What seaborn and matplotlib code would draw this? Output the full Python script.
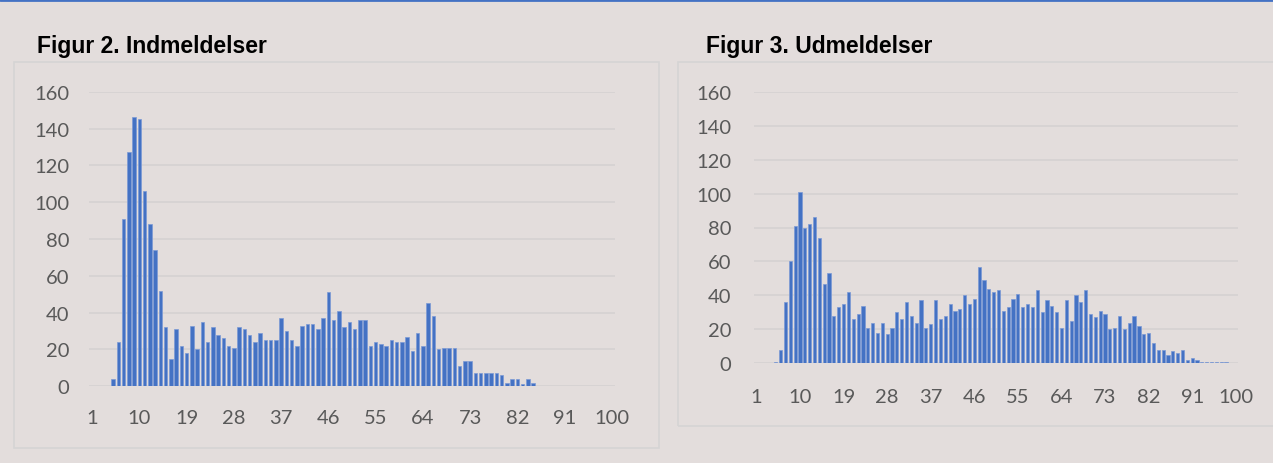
import numpy as np
import pandas as pd
import matplotlib
matplotlib.use("Agg")
import matplotlib.pyplot as plt
import seaborn as sns
from matplotlib.patches import Rectangle
from matplotlib.lines import Line2D

# ---------------- data ----------------
ages = list(range(1, 101))

indmeldelser = [
    0, 0, 0, 0, 4, 24, 91, 127, 146, 145,          # 1-10
    106, 88, 74, 52, 32, 15, 31, 22, 18, 33,       # 11-20
    20, 35, 24, 32, 28, 26, 22, 21, 32, 31,        # 21-30
    28, 24, 29, 25, 25, 25, 37, 30, 25, 22,        # 31-40
    33, 34, 34, 31, 37, 51, 36, 41, 32, 35,        # 41-50
    31, 36, 36, 22, 24, 23, 22, 25, 24, 24,        # 51-60
    27, 19, 29, 22, 45, 38, 20, 21, 21, 21,        # 61-70
    11, 14, 14, 7, 7, 7, 7, 7, 6, 2,               # 71-80
    4, 4, 1, 4, 2, 0, 0, 0, 0, 0,                  # 81-90
    0, 0, 0, 0, 0, 0, 0, 0, 0, 0,                  # 91-100
]

udmeldelser = [
    0, 0, 0, 0, 1, 8, 36, 60, 81, 101,             # 1-10
    80, 82, 86, 74, 47, 53, 28, 33, 35, 42,        # 11-20
    26, 29, 34, 21, 24, 18, 24, 17, 21, 30,        # 21-30
    26, 36, 28, 24, 37, 21, 23, 37, 26, 28,        # 31-40
    35, 31, 32, 40, 35, 38, 57, 49, 44, 42,        # 41-50
    43, 31, 33, 38, 41, 33, 35, 33, 43, 30,        # 51-60
    37, 34, 30, 21, 37, 25, 40, 36, 43, 29,        # 61-70
    27, 31, 29, 20, 21, 28, 20, 24, 28, 22,        # 71-80
    17, 18, 12, 8, 8, 5, 7, 6, 8, 2,               # 81-90
    3, 2, 1, 0.5, 0.5, 0.5, 0.5, 0.5, 0, 0,        # 91-100
]

tick_ages = list(range(1, 101, 9))
y_ticks = list(range(0, 161, 20))

titles = ["Figur 2. Indmeldelser", "Figur 3. Udmeldelser"]

# ---------------- style ----------------
BG = "#E3DDDC"
BAR = "#4472C4"
EDGE = "#7C9AD6"
GRID = "#D6D3D3"
TXT = "#595959"
BOX = "#D5D4D4"

sns.set_style("white")
plt.rcParams["font.family"] = ["Lato", "DejaVu Sans"]

W, H = 1273, 464
fig = plt.figure(figsize=(W / 100, H / 100), dpi=100, facecolor=BG)


def px_box(x0, y0, x1, y1):
    """convert pixel box (top-left origin) to figure fraction rect"""
    return [x0 / W, 1 - y1 / H, (x1 - x0) / W, (y1 - y0) / H]


# panel frames
for (x0, y0, x1, y1) in [(14, 63.3, 659.3, 449.3), (677.7, 63.3, 1285, 426.7)]:
    r = px_box(x0, y0, x1, y1)
    fig.patches.append(Rectangle((r[0], r[1]), r[2], r[3], transform=fig.transFigure,
                                 facecolor="none", edgecolor=BOX, lw=1.2))

# blue line at very top
fig.add_artist(Line2D([0, 1], [1 - 1.2 / H, 1 - 1.2 / H], transform=fig.transFigure,
                      color=BAR, lw=2.0))

ax1 = fig.add_axes(px_box(89.4, 92.7, 614.5, 387.3))
ax2 = fig.add_axes(px_box(754.0, 92.7, 1238.2, 364.3))

df1 = pd.DataFrame({"age": ages, "n": indmeldelser})
df2 = pd.DataFrame({"age": ages, "n": udmeldelser})

for ax, df, ypad, xpad in [(ax1, df1, 14.5, 16.5), (ax2, df2, 16.5, 17.5)]:
    sns.barplot(data=df, x="age", y="n", ax=ax, color=BAR, width=0.66,
                edgecolor=EDGE, linewidth=0.5, saturation=1, order=ages)
    ax.set_facecolor("none")
    ax.set_xlim(-0.5, len(ages) - 0.5)
    ax.set_ylim(0, 160)
    ax.set_yticks(y_ticks)
    ax.set_yticklabels([str(v) for v in y_ticks])
    ax.set_xticks([ages.index(a) for a in tick_ages])
    ax.set_xticklabels([str(a) for a in tick_ages])
    ax.set_xlabel("")
    ax.set_ylabel("")
    for s in ax.spines.values():
        s.set_visible(False)
    ax.yaxis.grid(True, color=GRID, lw=1.3)
    ax.xaxis.grid(False)
    ax.set_axisbelow(True)
    ax.tick_params(axis="both", length=0, labelsize=14.5, labelcolor=TXT)
    ax.tick_params(axis="y", pad=ypad)
    ax.tick_params(axis="x", pad=xpad)

fig.text(37 / W, 1 - 47 / H, titles[0], fontsize=16.5, fontweight="bold",
         family=["Liberation Sans", "DejaVu Sans"], color="#000000", va="center", ha="left")
fig.text(706 / W, 1 - 47 / H, titles[1], fontsize=16.5, fontweight="bold",
         family=["Liberation Sans", "DejaVu Sans"], color="#000000", va="center", ha="left")

fig.savefig("out.png", dpi=100, facecolor=BG)
